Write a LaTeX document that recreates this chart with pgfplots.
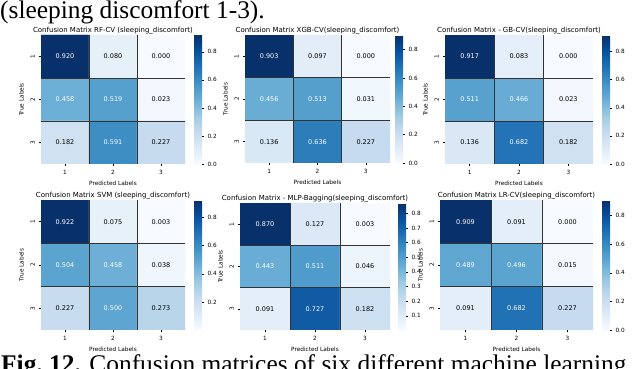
\documentclass[border=0pt]{standalone}
\usepackage{fontspec}
\setmainfont{DejaVu Sans}
\newfontfamily\capfont{Liberation Serif}
\usepackage{pgfplots}
\usepackage{pgfplotstable}
\pgfplotsset{compat=1.18}
\newcommand\fs[1]{\fontsize{#1}{#1}\selectfont}

\pgfplotsset{
  colormap={mplblues}{rgb255(0cm)=(247,251,255); rgb255(1cm)=(222,235,247); rgb255(2cm)=(198,219,239); rgb255(3cm)=(158,202,225); rgb255(4cm)=(107,174,214); rgb255(5cm)=(66,146,198); rgb255(6cm)=(33,113,181); rgb255(7cm)=(8,81,156); rgb255(8cm)=(8,48,107)},
  cmstyle/.style={
    scale only axis,
    /pgf/number format/assume math mode=true,
    xmin=0.5, xmax=3.5, ymin=0.5, ymax=3.5, y dir=reverse,
    xtick={1,2,3}, ytick={1,2,3},
    ticklabel style={font=\fs{5.8}},
    yticklabel style={rotate=90, anchor=south},
    axis x line*=bottom, axis y line*=left, axis line style={draw=none},
    tick align=outside, major tick length=2.5bp, tick style={black, line width=0.4bp},
    minor xtick={1.5,2.5}, minor ytick={1.5,2.5}, minor tick length=0pt,
    xminorgrids, yminorgrids, minor grid style={black!80, line width=0.6bp},
    axis on top,
    xlabel={Predicted Labels}, ylabel={True Labels},
    label style={font=\fs{5.8}},
    every axis title/.style={at={(0.5,1)}, anchor=base, yshift=2.5bp, font=\fs{7}},
    colormap name=mplblues, colorbar,
    colorbar shift/.style={xshift=9bp},
    colorbar style={
      at={(parent axis.north east)}, anchor=north west,
      width=8bp, scale only axis,
      axis y line*=right, axis x line*=bottom, xtick=\empty,
      axis line style={draw=none},
      tick align=outside, major tick length=2bp, tick style={black, line width=0.4bp},
      yticklabel style={font=\fs{5.8}, /pgf/number format/.cd, fixed, fixed zerofill, precision=1, assume math mode=true},
    },
  },
  cmlabel/.style={
    nodes near coords={\pgfmathparse{\pgfplotspointmeta>0.35 ? 1 : 0}\ifdim\pgfmathresult pt>0.5pt\color{white}\fi\pgfplotspointmeta},
    every node near coord/.style={font=\fs{6.5}, anchor=center},
  },
}

\newcommand\cmpanel[9]{%
\begin{axis}[cmstyle, at={(#1bp,#2bp)}, anchor=north west, width=#3bp, height=#4bp,
  title={#5}, point meta min=#7, point meta max=#8, #9]
\addplot[matrix plot*, mesh/cols=3, point meta=explicit] table[meta=C]{#6};
\addplot[draw=none, mark=none, point meta=explicit symbolic, cmlabel] table[meta=C]{#6};
\end{axis}}

\pgfplotstableread{
x y C
1 1 0.920
2 1 0.080
3 1 0.000
1 2 0.458
2 2 0.519
3 2 0.023
1 3 0.182
2 3 0.591
3 3 0.227
}\tabRF
\pgfplotstableread{
x y C
1 1 0.903
2 1 0.097
3 1 0.000
1 2 0.456
2 2 0.513
3 2 0.031
1 3 0.136
2 3 0.636
3 3 0.227
}\tabXGB
\pgfplotstableread{
x y C
1 1 0.917
2 1 0.083
3 1 0.000
1 2 0.511
2 2 0.466
3 2 0.023
1 3 0.136
2 3 0.682
3 3 0.182
}\tabGB
\pgfplotstableread{
x y C
1 1 0.922
2 1 0.075
3 1 0.003
1 2 0.504
2 2 0.458
3 2 0.038
1 3 0.227
2 3 0.500
3 3 0.273
}\tabSVM
\pgfplotstableread{
x y C
1 1 0.870
2 1 0.127
3 1 0.003
1 2 0.443
2 2 0.511
3 2 0.046
1 3 0.091
2 3 0.727
3 3 0.182
}\tabMLP
\pgfplotstableread{
x y C
1 1 0.909
2 1 0.091
3 1 0.000
1 2 0.489
2 2 0.496
3 2 0.015
1 3 0.091
2 3 0.682
3 3 0.227
}\tabLR

\begin{document}
\begin{tikzpicture}
\useasboundingbox (0,0) rectangle (640bp,369bp);
\node[anchor=base west, inner sep=0pt] at (0bp,350.5bp) {\capfont\fs{25.5}(sleeping discomfort 1-3).};
\node[anchor=base west, inner sep=0pt] at (1bp,-3bp) {\capfont\fs{25.5}\textbf{Fig.~12.} Confusion matrices of six different machine learning};

\cmpanel{41}{334}{144}{129}{Confusion Matrix RF-CV (sleeping\_discomfort)}{\tabRF}{0}{0.920}{colorbar style={ytick={0,0.2,0.4,0.6,0.8}}}
\cmpanel{245}{334}{145}{128}{Confusion Matrix XGB-CV(sleeping\_discomfort)}{\tabXGB}{0}{0.903}{colorbar style={ytick={0,0.2,0.4,0.6,0.8}}, colorbar shift/.style={xshift=5bp}}
\cmpanel{445}{334}{148}{129}{Confusion Matrix - GB-CV(sleeping\_discomfort)}{\tabGB}{0}{0.917}{colorbar style={ytick={0,0.2,0.4,0.6,0.8}}}
\cmpanel{41}{169}{144}{130}{Confusion Matrix SVM (sleeping\_discomfort)}{\tabSVM}{0.003}{0.922}{colorbar style={ytick={0.2,0.4,0.6,0.8}}}
\cmpanel{240}{166}{150}{127}{Confusion Matrix - MLP-Bagging(sleeping\_discomfort)}{\tabMLP}{0.003}{0.870}{colorbar style={ytick={0.1,0.2,0.3,0.4,0.5,0.6,0.7,0.8}}, colorbar shift/.style={xshift=8bp}}
\cmpanel{440}{169}{153}{130}{Confusion Matrix LR-CV(sleeping\_discomfort)}{\tabLR}{0}{0.909}{colorbar style={ytick={0,0.2,0.4,0.6,0.8}}}
\end{tikzpicture}
\end{document}
